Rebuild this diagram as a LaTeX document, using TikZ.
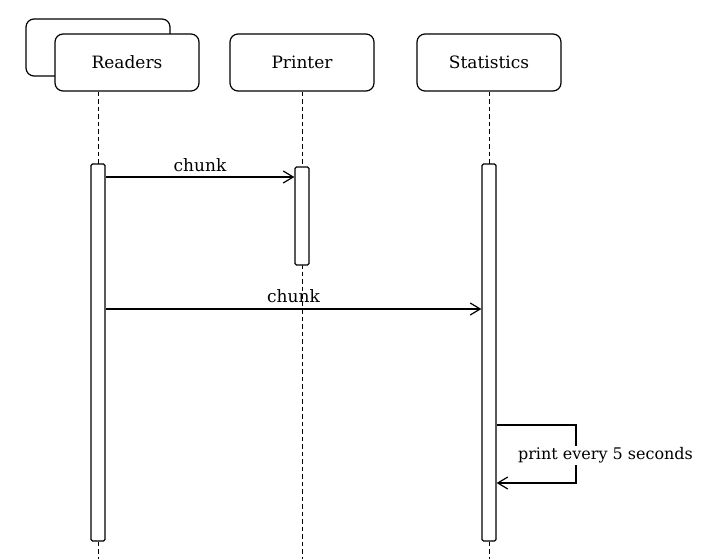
\documentclass[tikz,border=0pt]{standalone}
\usepackage{fontspec}
\setmainfont{DejaVu Serif}
\usetikzlibrary{arrows.meta,calc}
\begin{document}
\begin{tikzpicture}[x=1pt,y=-1pt,
  actor/.style={draw,fill=white,rounded corners=8pt,line width=1.2pt,minimum width=144pt,minimum height=57pt,inner sep=0pt,font=\fontsize{17}{20}\selectfont},
  bar/.style={draw,fill=white,rounded corners=1.5pt,line width=1.2pt,minimum width=14pt,inner sep=0pt},
  life/.style={line width=1pt,dash pattern=on 4.5pt off 3pt},
  msg/.style={line width=1.2pt,-{Straight Barb[length=10pt,width=12pt,line width=1.2pt]}},
  lbl/.style={font=\fontsize{17}{20}\selectfont,inner sep=1pt}]
\useasboundingbox (0,0) rectangle (701,559);
% actors
\node[actor] (rback) at (98,47.5) {};
\node[actor] (r) at (127,62.5) {Readers};
\node[actor] (p) at (302,62.5) {Printer};
\node[actor] (s) at (489,62.5) {Statistics};
% lifeline ends
\coordinate (rend) at (98,559);
\coordinate (pend) at (302,559);
\coordinate (send) at (489,559);
\draw[life] (r.south -| rend) -- (rend);
\draw[life] (p.south) -- (pend);
\draw[life] (s.south) -- (send);
% activation bars
\node[bar,minimum height=377pt] (ra) at (98,352.5) {};
\node[bar,minimum height=98pt] (pa) at (302,216) {};
\node[bar,minimum height=377pt] (sa) at (489,352.5) {};
% messages
\coordinate (y1) at (0,177);
\coordinate (y2) at (0,309);
\draw[msg] (ra.east |- y1) -- node[lbl,above=3.5pt] {chunk} (pa.west |- y1);
\draw[msg] (ra.east |- y2) -- node[lbl,above=4.5pt] {chunk} (sa.west |- y2);
% self message
\coordinate (sy1) at (0,425);
\coordinate (sy2) at (0,483);
\coordinate (sx) at (576,0);
\draw[msg] (sa.east |- sy1) -- (sx |- sy1) -- (sx |- sy2) -- (sa.east |- sy2);
\node[fill=white,inner sep=2pt,font=\fontsize{16}{19}\selectfont] (note) at (605.5,455.5) {print every 5 seconds};
\end{tikzpicture}
\end{document}
